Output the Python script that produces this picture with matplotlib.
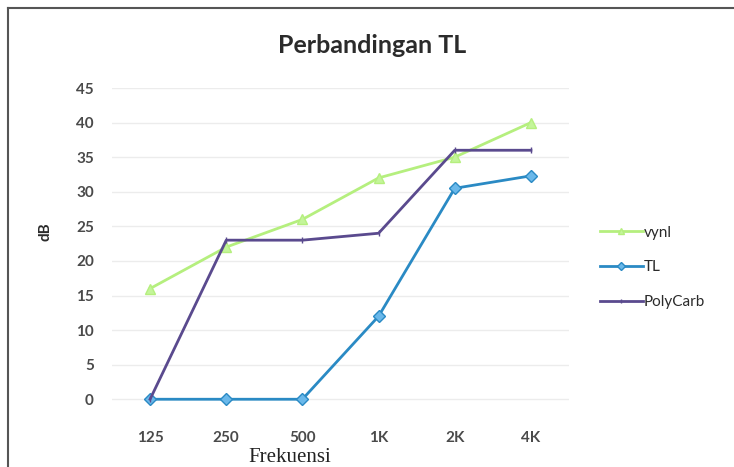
import matplotlib
matplotlib.use("Agg")
import matplotlib.pyplot as plt
from matplotlib.lines import Line2D

categories = ["125", "250", "500", "1K", "2K", "4K"]
vynl = [16, 22, 26, 32, 35, 40]
tl = [0, 0, 0, 12, 30.5, 32.3]
polycarb = [0, 23, 23, 24, 36, 36]
yticks = [0, 5, 10, 15, 20, 25, 30, 35, 40, 45]

plt.rcParams["font.family"] = ["Lato", "DejaVu Sans"]

fig = plt.figure(figsize=(7.34, 4.67), dpi=100)
ax = fig.add_axes([112 / 734, 1 - 420 / 467, (569 - 112) / 734, (420 - 88) / 467])

x = list(range(len(categories)))
ax.plot(x, vynl, color="#b5ef7e", lw=2.0, marker="^", ms=7,
        mfc="#c4f59a", mec="#b5ef7e", label="vynl", zorder=3)
ax.plot(x, tl, color="#2a8ac4", lw=2.0, marker="D", ms=6,
        mfc="#6ab8ea", mec="#2a8ac4", label="TL", zorder=4)
ax.plot(x, polycarb, color="#5a4a8e", lw=2.0, marker="|", ms=4,
        mec="#5a4a8e", label="PolyCarb", zorder=5)

ax.set_xlim(-0.5, len(categories) - 0.5)
ax.set_ylim(-3, 45)
ax.set_yticks(yticks)
ax.set_xticks(x)
ax.set_xticklabels(categories)
ax.grid(axis="y", color="#ececec", lw=1.0)
ax.set_axisbelow(True)
for s in ax.spines.values():
    s.set_visible(False)
ax.tick_params(length=0, labelsize=11, labelcolor="#4a4a4a")
for lbl in ax.get_xticklabels() + ax.get_yticklabels():
    lbl.set_fontweight("bold")
ax.tick_params(axis="y", pad=13)
ax.tick_params(axis="x", pad=8)

fig.text(372 / 734, 1 - 45 / 467, "Perbandingan TL", ha="center", va="center",
         fontsize=18, fontweight="bold", color="#2b2b2b")
fig.text(45 / 734, 1 - 232 / 467, "dB", ha="center", va="center", rotation=90,
         fontsize=11, fontweight="bold", color="#2b2b2b")
fig.text(290 / 734, 1 - 457 / 467, "Frekuensi", ha="center", va="center",
         fontsize=15, family=["Liberation Serif"], color="#222222")

handles, labels = ax.get_legend_handles_labels()
fig.legend(handles, labels, loc="upper left", bbox_to_anchor=(586 / 734, 1 - 212 / 467),
           frameon=False, fontsize=11, labelspacing=1.35, handlelength=2.8,
           handletextpad=0.1, markerscale=0.7, labelcolor="#2b2b2b")

# outer chart frame
fig.add_artist(Line2D([8 / 734, 8 / 734], [0, 1 - 8 / 467], color="#555555", lw=1.5,
                      transform=fig.transFigure))
fig.add_artist(Line2D([8 / 734, 1], [1 - 8 / 467, 1 - 8 / 467], color="#555555", lw=1.5,
                      transform=fig.transFigure))

fig.savefig("out.png", dpi=100)
